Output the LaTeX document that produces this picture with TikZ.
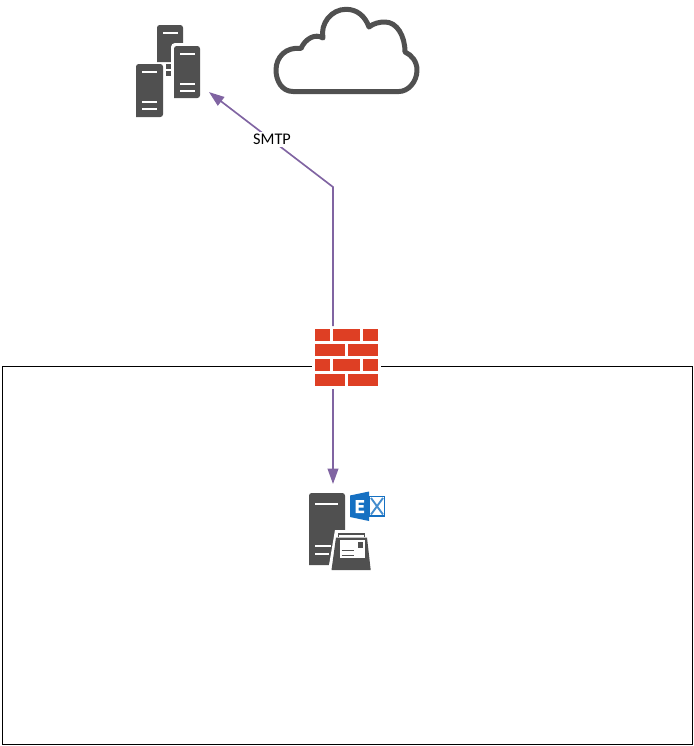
\documentclass[tikz,border=0pt]{standalone}
\usepackage{fontspec}
\setmainfont{Carlito}
\usepackage{tikz}
\usetikzlibrary{arrows.meta}
\definecolor{icongray}{HTML}{505050}
\definecolor{linkpurple}{HTML}{8064A2}
\definecolor{brickred}{HTML}{DE3F24}
\definecolor{exblue}{HTML}{1570C2}
\tikzset{
    iconbox/.style={inner sep=0pt,outer sep=0pt},
    link/.style={draw=linkpurple,line width=1.25pt},
    whitebar/.style={draw=white,line width=1.3pt},
    srvtop/.style={fill=icongray,rounded corners=2pt},
}

\begin{document}
\begin{tikzpicture}[font=\fontsize{12.2}{14}\selectfont,>={Triangle[length=11.5pt,width=8pt]},x=0.75pt,y=-0.75pt]
    \useasboundingbox (0,0) rectangle (693,746);

    % network border
    \draw[draw=black,line width=0.6pt] (2,366) rectangle (692,744);

    % named places of the icons
    \node[iconbox,minimum width=54.75pt,minimum height=69pt] (farm) at (172.5,71) {};
    \node[iconbox,minimum width=51.75pt,minimum height=47.25pt,fill=white] (firewall) at (346.5,357.5) {};
    \node[iconbox,minimum width=57pt,minimum height=64.5pt] (mail) at (347,527) {};
    \coordinate (bend) at (333,187);

    % links
    \draw[link,->] (bend |- firewall.north) -- (bend) -- (farm.-30)
        node[pos=0.5,fill=white,inner sep=1.5pt,xshift=0.75pt] (smtp) {SMTP};
    \draw[link,->] (bend |- firewall.south) -- (bend |- mail.north);

    % cloud
    \draw[icongray,line width=3.75pt,line join=round]
        (293,91.5) .. controls (282,91.5) and (276,81) .. (276,70)
        .. controls (276,57) and (286,46.5) .. (301,48.5)
        .. controls (305,39) and (315,33) .. (323,38)
        .. controls (320,24) and (331,9.3) .. (346,9.3)
        .. controls (357,9.3) and (365,16) .. (369,27)
        .. controls (374,23) and (380,22) .. (385,22)
        .. controls (397,22) and (405,36) .. (405,52)
        .. controls (412,55) and (417,62) .. (417,70)
        .. controls (417,82) and (408,91.5) .. (399,91.5) -- cycle;

    % server farm
    \fill[srvtop] (157,62) -- (157,25) -- (183,25) -- (183,62) [sharp corners] -- cycle;
    \fill[icongray] (166,64) rectangle (171,69);
    \fill[icongray] (166,71) rectangle (171,76);
    \fill[white,rounded corners=3pt] (171,43) rectangle (203,100);
    \fill[srvtop] (174,98) -- (174,46) -- (200,46) -- (200,98) [sharp corners] -- cycle;
    \fill[srvtop] (136,117) -- (136,64) -- (163,64) -- (163,117) [sharp corners] -- cycle;
    \foreach \x/\y in {163/33,180/54,180/84,180/91,142/72,142/102,142/109}{
        \draw[whitebar] (\x,\y) -- (\x+14.5,\y);
    }

    % firewall bricks
    \foreach \y in {329,359}{
        \foreach \xa/\xb in {315/330,333/360,363/378}{
            \fill[brickred] (\xa,\y) rectangle (\xb,\y+12);
        }
    }
    \foreach \y in {344,374}{
        \foreach \xa/\xb in {315/345,348/378}{
            \fill[brickred] (\xa,\y) rectangle (\xb,\y+12);
        }
    }

    % mail server
    \fill[srvtop] (309,565) -- (309,493) -- (345,493) -- (345,565) [sharp corners] -- cycle;
    \draw[whitebar] (315,504) -- (338,504);
    \draw[whitebar] (315,546) -- (331,546);
    \draw[whitebar] (315,554) -- (329,554);
    \fill[white] (335,530) -- (372,530) -- (372,571) -- (328,571) -- cycle;
    \fill[icongray] (338,533.2) rectangle (365,535);
    \fill[icongray] (338,533.2) rectangle (339,536.5);
    \fill[icongray] (364,533.2) rectangle (365,536.5);
    \fill[icongray] (336,537.5) -- (367,537.5) -- (370.7,570) -- (331.5,570) -- cycle;
    \fill[white] (340,540) rectangle (364.5,558);
    \fill[icongray] (357.5,542) rectangle (363,547.5);
    \draw[icongray,line width=0.8pt] (341.5,550.5) -- (354,550.5);
    \draw[icongray,line width=0.8pt] (341.5,555.5) -- (354,555.5);

    % exchange logo
    \fill[white] (369,496) rectangle (385,516.5);
    \draw[exblue,line width=0.8pt] (369,496.5) rectangle (384.5,516);
    \draw[exblue!80,line width=1.4pt] (371,498) -- (383,514.5);
    \draw[exblue!80,line width=1.4pt] (383,498) -- (371,514.5);
    \fill[exblue] (350,495.5) -- (369,491.5) -- (369,521) -- (350,517) -- cycle;
    \fill[white] (355.5,500) -- (364,500) -- (364,502.5) -- (358.5,502.5) -- (358.5,505)
        -- (363.5,505) -- (363.5,507.5) -- (358.5,507.5) -- (358.5,510.5) -- (364,510.5)
        -- (364,513) -- (355.5,513) -- cycle;
\end{tikzpicture}
\end{document}
